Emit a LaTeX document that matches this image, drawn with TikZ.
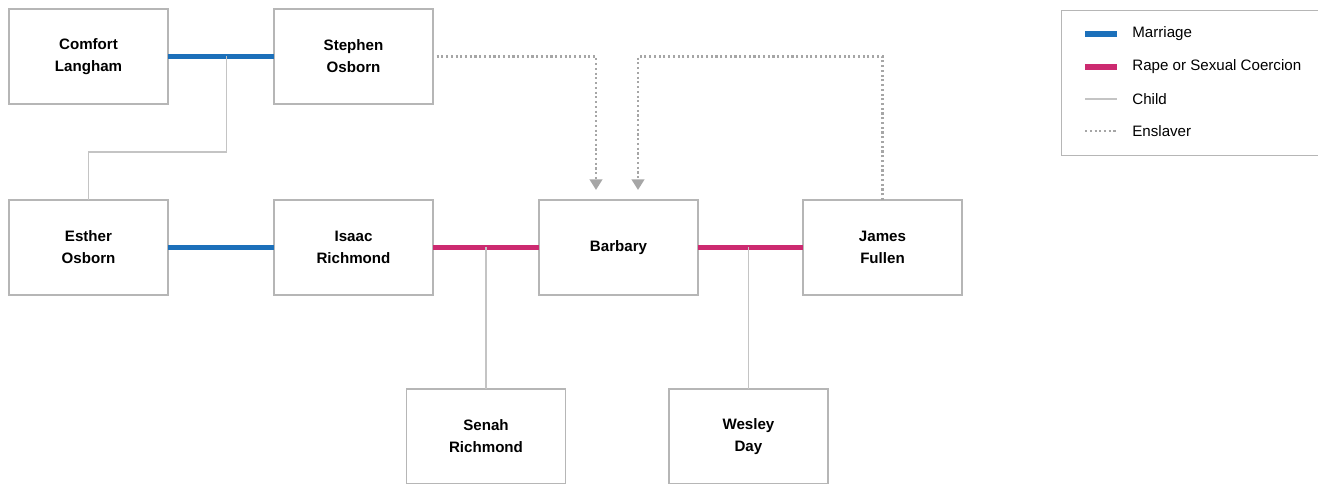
\documentclass[tikz,border=0pt]{standalone}
\usepackage{fontspec}
\setmainfont{Liberation Sans}
\usepackage{tikz}
\usetikzlibrary{arrows.meta, positioning, calc}
\usepackage{xcolor}
\definecolor{colmar}{RGB}{28,112,186}
\definecolor{colrape}{RGB}{204,42,112}
\definecolor{colchild}{RGB}{196,196,196}
\definecolor{colslave}{RGB}{166,166,166}
\definecolor{colframe}{RGB}{182,182,182}

\begin{document}
\begin{tikzpicture}[
  person/.style={rectangle, draw=colframe, line width=0.8pt, fill=white,
                 outer sep=0pt, minimum width=3.18cm, minimum height=1.9cm,
                 align=center, font=\fontsize{8.6}{12.5}\selectfont\bfseries},
  legtext/.style={anchor=west, inner sep=0pt, font=\fontsize{8.6}{12}\selectfont},
  marriage/.style={colmar, line width=3.4pt},
  rape/.style={colrape, line width=3.4pt},
  child/.style={colchild, line width=0.7pt},
  dots/.style={colslave, line width=1.5pt, dash pattern=on 1.2pt off 1.5pt},
  enslaver/.style={dots, -{Triangle[width=7pt, length=6pt]}},
  node distance=1.92cm and 2.12cm
]
\useasboundingbox (0,0) rectangle (26.36,-9.68);

% Top row
\node[person] (comfort) at (1.77,-1.13) {Comfort\\Langham};
\node[person, right=of comfort] (stephen) {Stephen\\Osborn};

% Middle row
\node[person, below=of comfort] (esther) {Esther\\Osborn};
\node[person, right=of esther] (isaac) {Isaac\\Richmond};
\node[person, right=of isaac] (barbary) {Barbary};
\node[person, right=2.1cm of barbary] (james) {James\\Fullen};

% Children
\coordinate (cs) at ($(comfort.east)!0.55!(stephen.west)$);
\coordinate (ib) at ($(isaac.east)!0.5!(barbary.west)$);
\coordinate (bj) at ($(barbary.east)!0.48!(james.west)$);
\node[person, below=2.83cm of ib] (senah) {Senah\\Richmond};
\node[person, below=2.83cm of bj] (wesley) {Wesley\\Day};

% Marriages
\draw[marriage] (comfort.east) -- (stephen.west);
\draw[marriage] (esther.east) -- (isaac.west);

% Rape or sexual coercion
\draw[rape] (isaac.east) -- (barbary.west);
\draw[rape] (barbary.east) -- (james.west);

% Child lines
\draw[child] (cs) -- ++(0,-1.91) -| (esther.north);
\draw[child] (ib) -- (senah.north);
\draw[child] (bj) -- (wesley.north);

% Enslavers
\draw[enslaver] ([xshift=2pt]stephen.east) -| ($(barbary.north)+(-0.45,0.2)$);
\draw[enslaver] (james.north) -- (james.north |- stephen.east)
    -| ($(barbary.north)+(0.39,0.2)$);

% Legend
\node[draw=colframe, line width=0.6pt, minimum width=5.4cm, minimum height=2.9cm,
      anchor=north west] (legend) at (21.22,-0.2) {};
\node[legtext] (lmar) at (22.64,-0.68) {Marriage};
\node[legtext] (lrape) at (22.64,-1.34) {Rape or Sexual Coercion};
\node[legtext] (lchild) at (22.64,-1.98) {Child};
\node[legtext] (lslave) at (22.64,-2.62) {Enslaver};
\draw[marriage] ($(lmar.west)+(-0.94,0)$) -- ++(0.64,0);
\draw[rape] ($(lrape.west)+(-0.94,0)$) -- ++(0.64,0);
\draw[child] ($(lchild.west)+(-0.94,0)$) -- ++(0.64,0);
\draw[dots] ($(lslave.west)+(-0.94,0)$) -- ++(0.64,0);
\end{tikzpicture}
\end{document}
